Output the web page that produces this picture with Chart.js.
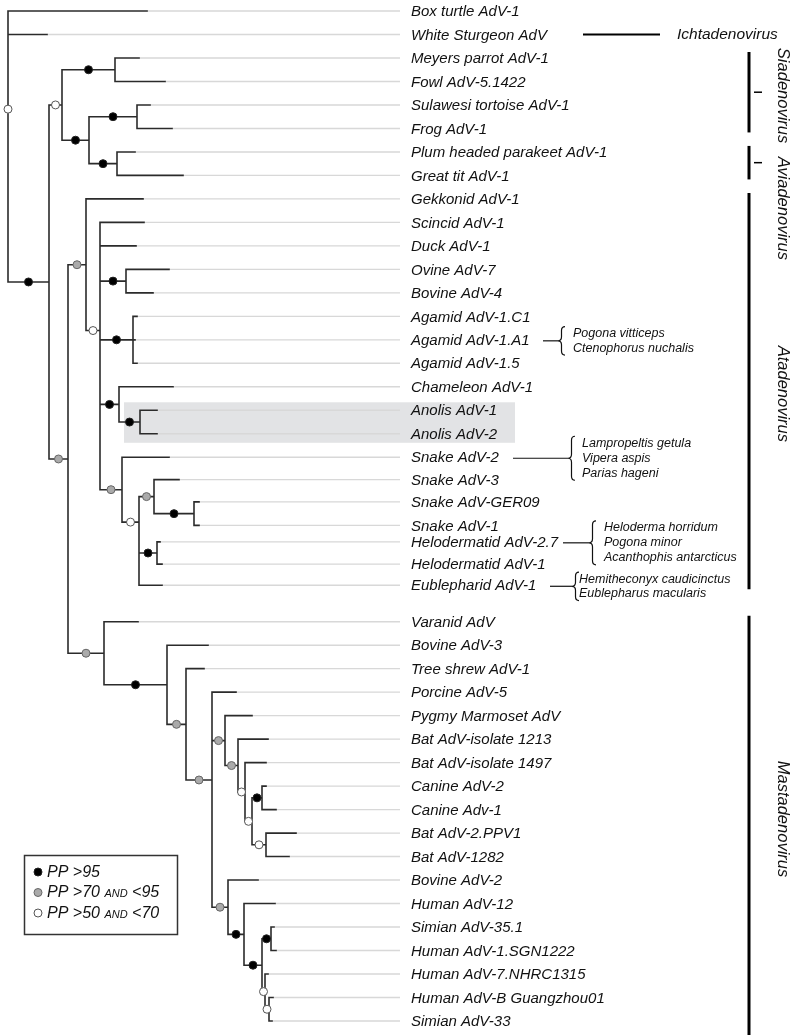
<!DOCTYPE html>
<html>
<head>
<meta charset="utf-8">
<title>Adenovirus tree</title>
<script src="https://cdn.jsdelivr.net/npm/chart.js@4.4.1/dist/chart.umd.min.js"></script>
<style>
  html, body { margin: 0; padding: 0; background: #fff; overflow: hidden; }
  #wrap { position: relative; width: 794px; height: 1035px; }
</style>
</head>
<body>
<div id="wrap"><canvas id="tree"></canvas></div>
<script>
// ---- leaves (tips of the tree) ----
const leafNames = [
  "Box turtle AdV-1", "White Sturgeon AdV", "Meyers parrot AdV-1", "Fowl AdV-5.1422",
  "Sulawesi tortoise AdV-1", "Frog AdV-1", "Plum headed parakeet AdV-1", "Great tit AdV-1",
  "Gekkonid AdV-1", "Scincid AdV-1", "Duck AdV-1", "Ovine AdV-7", "Bovine AdV-4",
  "Agamid AdV-1.C1", "Agamid AdV-1.A1", "Agamid AdV-1.5", "Chameleon AdV-1",
  "Anolis AdV-1", "Anolis AdV-2", "Snake AdV-2", "Snake AdV-3", "Snake AdV-GER09",
  "Snake AdV-1", "Helodermatid AdV-2.7", "Helodermatid AdV-1", "Eublepharid AdV-1",
  "Varanid AdV", "Bovine AdV-3", "Tree shrew AdV-1", "Porcine AdV-5", "Pygmy Marmoset AdV",
  "Bat AdV-isolate 1213", "Bat AdV-isolate 1497", "Canine AdV-2", "Canine Adv-1",
  "Bat AdV-2.PPV1", "Bat AdV-1282", "Bovine AdV-2", "Human AdV-12", "Simian AdV-35.1",
  "Human AdV-1.SGN1222", "Human AdV-7.NHRC1315", "Human AdV-B Guangzhou01", "Simian AdV-33"
];
const leafRows = [
  0, 1, 2, 3, 4, 5, 6, 7, 8, 9, 10, 11, 12, 13, 14, 15, 16, 17, 18, 19,
  19.95, 20.9, 21.9, 22.6, 23.55, 24.45,
  26, 27, 28, 29, 30, 31, 32, 33, 34, 35, 36, 37, 38, 39, 40, 41, 42, 43
];
const leafParents = [
  "R", "R", "S1", "S1", "S2a", "S2a", "S2b", "S2b", "D", "E", "E", "F", "F",
  "G", "G", "G", "H", "I", "I", "J", "L", "L2", "L2", "N", "N", "K",
  "M", "P", "Q", "T", "U", "W", "X", "Z", "Z", "AA", "AA", "V", "AB", "AD", "AD", "AE", "AF", "AF"
];
const leafDepths = [
  147, 47, 139, 165, 150, 172, 135, 183, 143, 144, 136, 169, 153,
  137, 135, 137, 173, 157, 157, 169, 179, 199, 199, 160, 162, 162,
  138, 208, 204, 236, 252, 268, 266, 266, 276, 296, 289, 258, 275, 274, 276, 268, 273, 272
];

// ---- internal nodes ----
const nodeIds     = ["R", "A", "S", "S1", "S2", "S2a", "S2b", "C", "D", "E", "F", "G", "H", "I", "J", "K", "L", "L2", "N",
                     "M", "P", "Q", "T", "U", "W", "X", "Y", "Z", "AA", "V", "AB", "AC", "AD", "AE", "AF"];
const nodeParents = [null, "R", "A", "S", "S", "S2", "S2", "A", "C", "D", "E", "E", "E", "H", "E", "J", "K", "L", "K",
                     "C", "M", "P", "Q", "T", "U", "W", "X", "Y", "Y", "T", "V", "AB", "AC", "AC", "AE"];
const nodeDepths  = [8, 49, 62, 115, 89, 137, 117, 68, 86, 100, 126, 133, 119, 140, 122, 139, 154, 194, 157,
                     104, 167, 186, 212, 225, 238, 245, 252, 262, 266, 228, 244, 262, 271, 265, 269];
// posterior probability class: 1 = PP>95, 2 = PP 70-95, 3 = PP 50-70
const nodeSupport = [3, 1, 3, 1, 1, 1, 1, 2, 2, 3, 1, 1, 1, 1, 2, 3, 2, 1, 1,
                     2, 1, 2, 2, 2, 2, 3, 3, 1, 3, 2, 1, 1, 1, 3, 3];
const nodeRowFixed = { K: 21.76 };

// ---- side notes and genera ----
const noteLeaves = ["Agamid AdV-1.A1", "Snake AdV-2", "Helodermatid AdV-2.7", "Eublepharid AdV-1"];
const noteHosts = [
  ["Pogona vitticeps", "Ctenophorus nuchalis"],
  ["Lampropeltis getula", "Vipera aspis", "Parias hageni"],
  ["Heloderma horridum", "Pogona minor", "Acanthophis antarcticus"],
  ["Hemitheconyx caudicinctus", "Eublepharus macularis"]
];
const genusNames = ["Ichtadenovirus", "Siadenovirus", "Aviadenovirus", "Atadenovirus", "Mastadenovirus"];
const genusFirst = [1, 2, 6, 8, 26];
const genusLast  = [1, 5, 7, 25, 43];
const legendLabels = [["PP >95"], ["PP >70 ", "AND", " <95"], ["PP >50 ", "AND", " <70"]];

// ---- styles / layout ----
const ROW0_PX = 11, ROW_STEP = 23.488, W = 794, H = 1035;
const LINE_END = 400, LABEL_X = 411;
const FONT = '"Liberation Sans", Arial, Helvetica, sans-serif';
const supportFill = { 1: "#000000", 2: "#aaaaaa", 3: "#ffffff" };
const supportEdge = { 1: "#222222", 2: "#666666", 3: "#555555" };

// ---- build tree geometry ----
const idx = {};
nodeIds.forEach((id, i) => { idx[id] = i; });
const nodeRow = new Array(nodeIds.length).fill(null);

function childRows(i) {
  const rows = [];
  nodeParents.forEach((p, j) => { if (p === nodeIds[i]) rows.push(rowOf(j)); });
  leafParents.forEach((p, j) => { if (p === nodeIds[i]) rows.push(leafRows[j]); });
  return rows;
}
function rowOf(i) {
  if (nodeRow[i] !== null) return nodeRow[i];
  const id = nodeIds[i];
  if (nodeRowFixed[id] !== undefined) { nodeRow[i] = nodeRowFixed[id]; return nodeRow[i]; }
  const rows = childRows(i);
  nodeRow[i] = rows.reduce((a, b) => a + b, 0) / rows.length;
  return nodeRow[i];
}
nodeIds.forEach((_, i) => rowOf(i));

const branchPts = [];
const extPts = [];
function seg(arr, x1, y1, x2, y2) {
  arr.push({ x: x1, y: y1 }, { x: x2, y: y2 }, { x: x2, y: null });
}
nodeIds.forEach((id, i) => {
  const r = nodeRow[i];
  if (nodeParents[i]) seg(branchPts, nodeDepths[idx[nodeParents[i]]], r, nodeDepths[i], r);
  const rows = childRows(i);
  seg(branchPts, nodeDepths[i], Math.min(...rows), nodeDepths[i], Math.max(...rows));
});
leafNames.forEach((n, i) => {
  const px = nodeDepths[idx[leafParents[i]]];
  seg(branchPts, px, leafRows[i], leafDepths[i], leafRows[i]);
  seg(extPts, leafDepths[i], leafRows[i], LINE_END, leafRows[i]);
});

const supportPts = { 1: [], 2: [], 3: [] };
nodeIds.forEach((id, i) => {
  const p = nodeParents[i];
  const x = p ? (nodeDepths[idx[p]] + nodeDepths[i]) / 2 : nodeDepths[i];
  supportPts[nodeSupport[i]].push({ x: x, y: nodeRow[i] });
});

// ---- decorations ----
function drawBrace(ctx, x, top, bot, w) {
  const mid = (top + bot) / 2, r = 4;
  ctx.beginPath();
  ctx.moveTo(x + w, top);
  ctx.quadraticCurveTo(x + w / 2, top, x + w / 2, top + r);
  ctx.lineTo(x + w / 2, mid - r);
  ctx.quadraticCurveTo(x + w / 2, mid, x, mid);
  ctx.quadraticCurveTo(x + w / 2, mid, x + w / 2, mid + r);
  ctx.lineTo(x + w / 2, bot - r);
  ctx.quadraticCurveTo(x + w / 2, bot, x + w, bot);
  ctx.stroke();
}

// line start, brace x, text x for each note
const noteLayout = [
  { from: 543, brace: 558, text: 573, gap: 14.5 },
  { from: 513, brace: 568, text: 582, gap: 15 },
  { from: 563, brace: 589, text: 604, gap: 15 },
  { from: 550, brace: 572, text: 579, gap: 14.5 }
];
const genusLabelRow = [1, 3.6, 8.4, 16.3, 34.4];

const treeDecor = {
  id: "treeDecor",
  beforeDatasetsDraw(chart) {
    const { ctx, scales: { x, y } } = chart;
    const iA = leafNames.indexOf("Anolis AdV-1"), iB = leafNames.indexOf("Anolis AdV-2");
    const top = y.getPixelForValue(leafRows[iA]) - 8;
    const bot = y.getPixelForValue(leafRows[iB]) + 9;
    ctx.save();
    ctx.fillStyle = "#e2e3e5";
    ctx.fillRect(x.getPixelForValue(124), top, x.getPixelForValue(515) - x.getPixelForValue(124), bot - top);
    ctx.restore();
  },
  afterDatasetsDraw(chart) {
    const { ctx, scales: { x, y } } = chart;
    ctx.save();
    ctx.fillStyle = "#111";
    ctx.textBaseline = "middle";

    // leaf labels
    ctx.font = "italic 15px " + FONT;
    leafNames.forEach((n, i) => {
      ctx.fillText(n, x.getPixelForValue(LABEL_X), y.getPixelForValue(leafRows[i]) + 1);
    });

    // host notes with braces
    ctx.strokeStyle = "#111";
    ctx.lineWidth = 1.2;
    ctx.font = "italic 12.5px " + FONT;
    noteLeaves.forEach((leaf, k) => {
      const L = noteLayout[k];
      const yc = y.getPixelForValue(leafRows[leafNames.indexOf(leaf)]) + 1;
      const hosts = noteHosts[k];
      const span = (hosts.length - 1) * L.gap;
      ctx.beginPath();
      ctx.moveTo(L.from, yc);
      ctx.lineTo(L.brace, yc);
      ctx.stroke();
      drawBrace(ctx, L.brace, yc - span / 2 - 7, yc + span / 2 + 7, 7);
      hosts.forEach((h, j) => ctx.fillText(h, L.text, yc - span / 2 + j * L.gap));
    });

    // genera
    ctx.strokeStyle = "#000";
    genusNames.forEach((g, k) => {
      const y1 = y.getPixelForValue(leafRows[genusFirst[k]]);
      const y2 = y.getPixelForValue(leafRows[genusLast[k]]);
      if (k === 0) {
        ctx.lineWidth = 2;
        ctx.beginPath(); ctx.moveTo(583, y1); ctx.lineTo(660, y1); ctx.stroke();
        ctx.font = "italic 15.5px " + FONT;
        ctx.textAlign = "left";
        ctx.fillText(g, 677, y1);
        return;
      }
      const top = y1 - 6;
      const bot = k === genusNames.length - 1 ? H : y2 + 4;
      ctx.lineWidth = 3;
      ctx.beginPath(); ctx.moveTo(749, top); ctx.lineTo(749, bot); ctx.stroke();
      if (k === 1 || k === 2) {
        ctx.lineWidth = 1.5;
        const m = (top + bot) / 2;
        ctx.beginPath(); ctx.moveTo(754, m); ctx.lineTo(762, m); ctx.stroke();
      }
      ctx.save();
      ctx.translate(783, y.getPixelForValue(genusLabelRow[k]));
      ctx.rotate(Math.PI / 2);
      ctx.font = "italic 16.5px " + FONT;
      ctx.textAlign = "center";
      ctx.fillText(g, 0, 0);
      ctx.restore();
    });

    // legend box
    ctx.textAlign = "left";
    ctx.strokeStyle = "#333";
    ctx.lineWidth = 1.5;
    ctx.strokeRect(24.5, 855.5, 153, 79);
    legendLabels.forEach((parts, k) => {
      const cy = 872 + k * 20.5;
      ctx.beginPath();
      ctx.arc(38, cy, 4, 0, Math.PI * 2);
      ctx.fillStyle = supportFill[k + 1];
      ctx.fill();
      ctx.strokeStyle = supportEdge[k + 1];
      ctx.lineWidth = 1;
      ctx.stroke();
      ctx.fillStyle = "#111";
      let tx = 47;
      parts.forEach(p => {
        ctx.font = (p === "AND" ? "italic 11px " : "italic 16px ") + FONT;
        ctx.fillText(p, tx, cy + (p === "AND" ? 1.5 : 0.5));
        tx += ctx.measureText(p).width;
      });
    });
    ctx.restore();
  }
};

const supportSet = (k) => ({
  data: supportPts[k],
  showLine: false,
  pointRadius: 4,
  pointHoverRadius: 4,
  pointBackgroundColor: supportFill[k],
  pointBorderColor: supportEdge[k],
  pointBorderWidth: 1,
  order: 0
});

new Chart(document.getElementById("tree"), {
  type: "scatter",
  data: {
    datasets: [
      supportSet(1), supportSet(2), supportSet(3),
      { data: branchPts, showLine: true, spanGaps: false, borderColor: "#2b2b2b", borderWidth: 1.6,
        borderCapStyle: "square", pointRadius: 0, pointHoverRadius: 0, order: 1 },
      { data: extPts, showLine: true, spanGaps: false, borderColor: "#d8d8d8", borderWidth: 1.4,
        pointRadius: 0, pointHoverRadius: 0, order: 2 }
    ]
  },
  options: {
    responsive: true,
    maintainAspectRatio: false,
    animation: false,
    events: [],
    clip: false,
    layout: { padding: 0, autoPadding: false },
    plugins: { legend: { display: false }, tooltip: { enabled: false } },
    scales: {
      x: { type: "linear", display: false, min: 0, max: W },
      y: { type: "linear", display: false, reverse: true,
           min: -ROW0_PX / ROW_STEP, max: -ROW0_PX / ROW_STEP + H / ROW_STEP }
    }
  },
  plugins: [treeDecor]
});
</script>
</body>
</html>
